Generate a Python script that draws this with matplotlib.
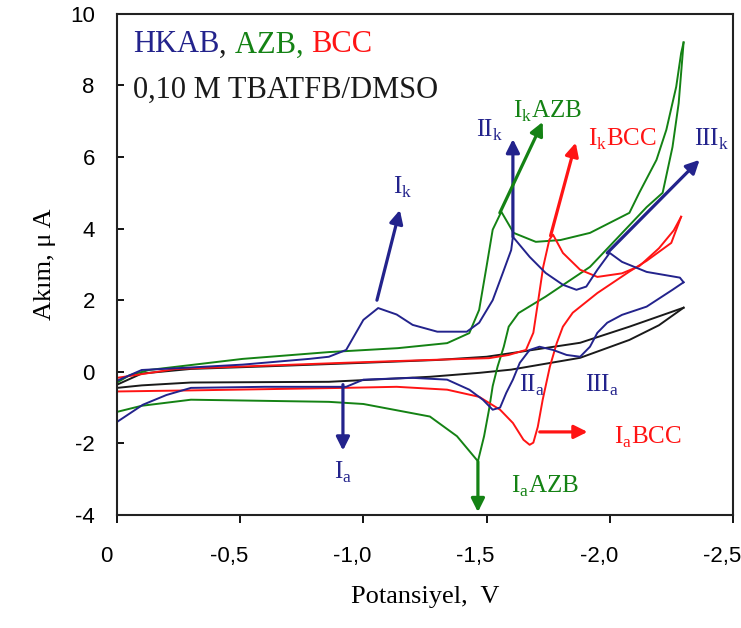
import numpy as np
import matplotlib
matplotlib.use('Agg')
import matplotlib.pyplot as plt
import matplotlib.transforms as mtransforms

# potential (V) and current (uA)
hkab_fwd_v = [0, -0.1, -0.3, -0.51, -0.78, -0.86, -0.93, -1.0, -1.06, -1.135, -1.2, -1.3, -1.42, -1.47, -1.525,
              -1.566, -1.6, -1.607, -1.675, -1.74, -1.81, -1.865, -1.905, -1.95, -2.0, -2.05, -2.15, -2.285, -2.3]
hkab_fwd_i = [-0.25, 0.05, 0.12, 0.2, 0.36, 0.42, 0.61, 1.45, 1.78, 1.6, 1.31, 1.12, 1.12, 1.37, 2.0,
              2.76, 3.4, 3.77, 3.21, 2.76, 2.43, 2.29, 2.38, 2.85, 3.32, 3.07, 2.79, 2.63, 2.5]
hkab_rev_v = [-2.3, -2.255, -2.15, -2.05, -1.99, -1.95, -1.92, -1.88, -1.825, -1.77, -1.715, -1.675, -1.635, -1.607,
              -1.58, -1.555, -1.525, -1.485, -1.43, -1.34, -1.2, -1.0, -0.93, -0.6, -0.3, -0.2, -0.105, 0]
hkab_rev_i = [2.5, 2.29, 1.82, 1.59, 1.37, 1.09, 0.7, 0.42, 0.47, 0.61, 0.7, 0.61, 0.25, -0.22,
              -0.59, -1.0, -1.06, -0.78, -0.5, -0.22, -0.17, -0.22, -0.42, -0.42, -0.45, -0.65, -0.92, -1.4]

azb_fwd_v = [0, -0.05, -0.13, -0.51, -0.86, -1.14, -1.34, -1.43, -1.47, -1.5, -1.525, -1.56, -1.61, -1.7, -1.8, -1.92,
             -2.08, -2.12, -2.19, -2.23, -2.27, -2.29, -2.3]
azb_fwd_i = [-0.3, -0.1, 0.05, 0.36, 0.55, 0.66, 0.8, 1.08, 1.73, 2.94, 3.97, 4.47, 3.88, 3.63, 3.68, 3.88,
             4.44, 5.0, 5.92, 6.76, 7.96, 8.9, 9.2]
azb_rev_v = [-2.3, -2.28, -2.255, -2.215, -2.15, -1.92, -1.74, -1.63, -1.59, -1.57, -1.545, -1.525, -1.51, -1.49,
             -1.465, -1.38, -1.27, -1.0, -0.86, -0.3, -0.1, 0]
azb_rev_i = [9.2, 7.5, 6.28, 5.0, 4.6, 2.93, 2.1, 1.64, 1.26, 0.7, 0.15, -0.4, -1.06, -1.8,
             -2.5, -1.8, -1.25, -0.9, -0.84, -0.78, -0.95, -1.12]

bcc_fwd_v = [0, -0.24, -0.6, -0.92, -1.27, -1.51, -1.59, -1.66, -1.69, -1.71, -1.73, -1.755, -1.77, -1.81, -1.88,
             -1.95, -2.05, -2.12, -2.2, -2.26, -2.29]
bcc_fwd_i = [-0.17, 0.08, 0.17, 0.25, 0.33, 0.38, 0.47, 0.61, 1.09, 2.0, 2.93, 3.69, 3.83, 3.32, 2.85,
             2.65, 2.75, 2.95, 3.45, 3.95, 4.33]
bcc_rev_v = [-2.29, -2.25, -2.15, -2.08, -1.95, -1.85, -1.81, -1.785, -1.757, -1.728, -1.708, -1.69, -1.675, -1.65,
             -1.607, -1.555, -1.47, -1.34, -1.135, -0.92, -0.3, 0]
bcc_rev_i = [4.33, 3.6, 3.1, 2.8, 2.2, 1.65, 1.26, 0.8, 0.14, -0.78, -1.54, -1.98, -2.04, -1.9,
             -1.43, -1.06, -0.7, -0.5, -0.42, -0.45, -0.52, -0.55]

blank_fwd_v = [0, -0.1, -0.3, -0.6, -1.0, -1.3, -1.5, -1.6, -1.88, -2.08, -2.3]
blank_fwd_i = [-0.36, -0.05, 0.08, 0.15, 0.25, 0.33, 0.42, 0.52, 0.81, 1.26, 1.79]
blank_rev_v = [-2.3, -2.2, -2.08, -1.88, -1.6, -1.47, -1.27, -0.86, -0.3, -0.1, 0]
blank_rev_i = [1.79, 1.3, 0.89, 0.39, 0.06, -0.03, -0.14, -0.28, -0.3, -0.38, -0.45]

xticks = [0, -0.5, -1.0, -1.5, -2.0, -2.5]
xtick_labels = ['0', '-0,5', '-1,0', '-1,5', '-2,0', '-2,5']
yticks = [-4, -2, 0, 2, 4, 6, 8, 10]

blue = '#23238c'
green = '#148214'
red = '#ff1414'
black = '#1a1a1a'

plt.rcParams['font.family'] = ['Liberation Serif', 'DejaVu Serif']
plt.rcParams['mathtext.fontset'] = 'custom'
plt.rcParams['mathtext.rm'] = 'Liberation Serif'

fig = plt.figure(figsize=(7.41, 6.28), dpi=100)
ax = fig.add_axes([0.158, 0.18, 0.831, 0.798])

lw = 1.4
ax.plot(blank_fwd_v, blank_fwd_i, color=black, lw=lw)
ax.plot(blank_rev_v, blank_rev_i, color=black, lw=lw)
ax.plot(azb_fwd_v, azb_fwd_i, color=green, lw=lw)
ax.plot(azb_rev_v, azb_rev_i, color=green, lw=lw)
ax.plot(bcc_fwd_v, bcc_fwd_i, color=red, lw=lw)
ax.plot(bcc_rev_v, bcc_rev_i, color=red, lw=lw)
ax.plot(hkab_fwd_v, hkab_fwd_i, color=blue, lw=lw)
ax.plot(hkab_rev_v, hkab_rev_i, color=blue, lw=lw)

ax.set_xlim(0, -2.5)
ax.set_ylim(-4, 10)
ax.set_xticks(xticks)
ax.set_xticklabels(xtick_labels, family='Liberation Sans')
ax.set_yticks(yticks)
ax.set_yticklabels([str(t) for t in yticks], family='Liberation Sans')
ax.tick_params(axis='x', direction='out', length=6, width=1.3, labelsize=16, pad=16)
ax.tick_params(axis='y', direction='in', length=5, width=1.3, labelsize=16, pad=16)
# x tick labels sit a little left of their ticks in the original
shift = mtransforms.ScaledTranslation(-11 / 100, 0, fig.dpi_scale_trans)
for lab in ax.get_xticklabels():
    lab.set_transform(lab.get_transform() + shift)
for s in ax.spines.values():
    s.set_linewidth(1.5)
    s.set_color('#222222')

ax.set_xlabel('Potansiyel,  V', fontsize=19, labelpad=14)
ax.set_ylabel('Akım, μ A', fontsize=19, labelpad=10)

# header text in several colours
t = ax.text(0.026, 0.938, 'HKAB', color=blue, fontsize=22, transform=ax.transAxes, va='center')
t = ax.annotate(', ', xy=(1, 0), xycoords=t, va='bottom', color=black, fontsize=22)
t = ax.annotate('AZB, ', xy=(1, 0), xycoords=t, va='bottom', color=green, fontsize=22)
t = ax.annotate('BCC', xy=(1, 0), xycoords=t, va='bottom', color=red, fontsize=22)
ax.text(0.026, 0.848, '0,10 M TBATFB/DMSO', color=black, fontsize=22, transform=ax.transAxes, va='center')

# peak arrows
arrows = [
    ((-1.055, 2.0), (-1.148, 4.52), blue),
    ((-1.607, 3.77), (-1.607, 6.5), blue),
    ((-1.554, 4.44), (-1.728, 6.98), green),
    ((-1.76, 3.8), (-1.862, 6.4), red),
    ((-1.99, 3.32), (-2.365, 5.92), blue),
    ((-0.917, -0.36), (-0.917, -2.2), blue),
    ((-1.465, -2.51), (-1.465, -3.92), green),
    ((-1.716, -1.68), (-1.91, -1.68), red),
]
for start, end, c in arrows:
    ax.annotate('', xy=end, xytext=start,
                arrowprops=dict(arrowstyle='-|>', color=c, lw=2.3, mutation_scale=20, shrinkA=0, shrinkB=0))

fs = 18
labels = [
    (-1.16, 5.14, r'I$_\mathregular{k}$', blue),
    (-1.513, 6.73, r'II$_\mathregular{k}$', blue),
    (-1.748, 7.26, r'I$_\mathregular{k}$AZB', green),
    (-2.05, 6.48, r'I$_\mathregular{k}$BCC', red),
    (-2.414, 6.48, r'III$_\mathregular{k}$', blue),
    (-0.917, -2.8, r'I$_\mathregular{a}$', blue),
    (-1.736, -3.21, r'I$_\mathregular{a}$AZB', green),
    (-2.154, -1.84, r'I$_\mathregular{a}$BCC', red),
    (-1.684, -0.39, r'II$_\mathregular{a}$', blue),
    (-1.967, -0.39, r'III$_\mathregular{a}$', blue),
]
for x, y, s, c in labels:
    ax.text(x, y, s, color=c, fontsize=fs, ha='center', va='center')

fig.savefig('out.png', dpi=100)
